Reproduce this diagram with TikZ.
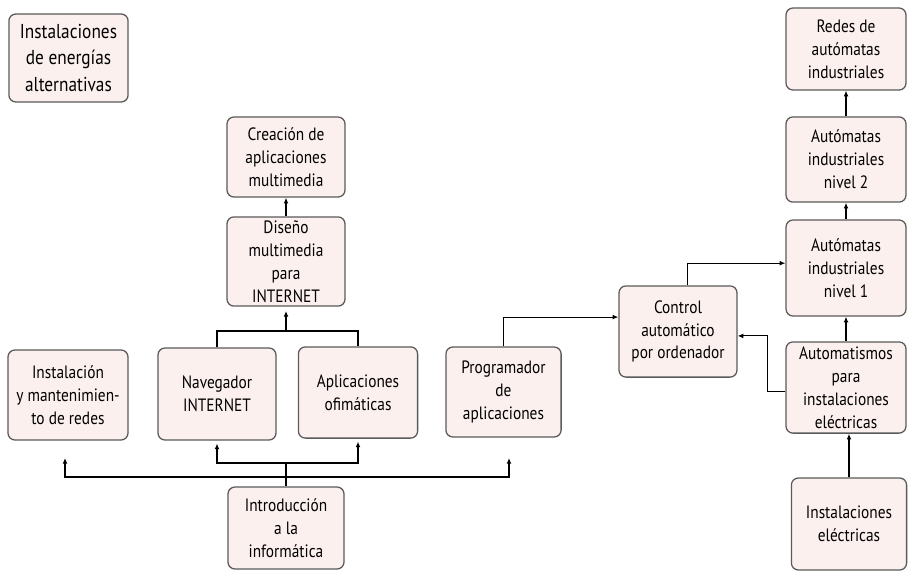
\documentclass[tikz,border=0pt]{standalone}
\usepackage{fontspec}
\setmainfont[FakeStretch=0.86]{PT Sans}
\usepackage{tikz}
\usetikzlibrary{arrows.meta}
\definecolor{boxpink}{HTML}{FCF0EE}
\definecolor{boxline}{HTML}{5A5A5A}

\begin{document}
\begin{tikzpicture}[x=0.025cm, y=-0.025cm,
  box/.style={draw=boxline, fill=boxpink, rounded corners=5pt, line width=0.9pt,
    align=center, inner sep=1pt, font=\fontsize{12.7}{16.3}\selectfont},
  arr/.style={line width=0.8pt, -{Latex[length=4pt,width=3.4pt]}},
  link/.style={line width=0.8pt}]
\useasboundingbox (0,0) rectangle (908,573);

\node[box, minimum width=2.98cm, minimum height=2.2cm, font=\fontsize{14.3}{18.5}\selectfont] (energia) at (68.5,58) {Instalaciones\\de energías\\alternativas};

\node[box, minimum width=2.95cm, minimum height=2cm] (creacion) at (286,157) {Creación de\\aplicaciones\\multimedia};
\node[box, minimum width=2.95cm, minimum height=2.23cm] (diseno) at (286,261.5) {Diseño\\multimedia\\para\\INTERNET};

\node[box, minimum width=3cm, minimum height=2.25cm] (redes) at (68,395) {Instalación\\y mantenimien-\\to de redes};
\node[box, minimum width=2.95cm, minimum height=2.3cm] (navegador) at (217,394) {Navegador\\INTERNET};
\node[box, minimum width=2.98cm, minimum height=2.28cm] (ofimatica) at (358,392.5) {Aplicaciones\\ofimáticas};
\node[box, minimum width=2.88cm, minimum height=2.25cm] (programador) at (503.5,392) {Programador\\de\\aplicaciones};
\node[box, minimum width=2.9cm, minimum height=2.05cm] (intro) at (286,528) {Introducción\\a la\\informática};

\node[box, minimum width=2.95cm, minimum height=2.28cm] (control) at (678,331.5) {Control\\automático\\por ordenador};

\node[box, minimum width=3cm, minimum height=2.05cm] (redesaut) at (846,49) {Redes de\\autómatas\\industriales};
\node[box, minimum width=3cm, minimum height=2.13cm] (nivel2) at (846,159.5) {Autómatas\\industriales\\nivel 2};
\node[box, minimum width=3cm, minimum height=2.4cm] (nivel1) at (846,268) {Autómatas\\industriales\\nivel 1};
\node[box, minimum width=3cm, minimum height=2.28cm] (automatismos) at (846,387.5) {Automatismos\\para\\instalaciones\\eléctricas};
\node[box, minimum width=2.88cm, minimum height=2.3cm] (electricas) at (849,524) {Instalaciones\\eléctricas};

\coordinate (jtop) at (286,331);
\coordinate (jin) at (286,463);
\coordinate (jout) at (286,477);
\coordinate (tipredes) at (65,458);
\coordinate (tipprog) at (509,458);

\draw[arr] (diseno.north) -- (creacion.south);
\draw[link] (navegador.north) |- (jtop) -| (ofimatica.north);
\draw[arr, shorten >=3pt] (jtop) -- (diseno.south);

\draw[link] (intro.north) -- (jin);
\draw[arr, shorten >=2pt] (jin) -| (navegador.south);
\draw[arr, shorten >=2pt] (jin) -| (ofimatica.south);
\draw[arr] (jout) -| (tipredes);
\draw[arr] (jout) -| (tipprog);

\draw[arr] (programador.north) |- ([yshift=0.36cm]control.west);
\draw[arr] ([xshift=0.23cm]control.north) |- ([yshift=0.12cm]nivel1.west);
\draw[arr] ([yshift=-0.11cm]automatismos.west) -- ++(-0.45cm,0) |- ([yshift=-0.11cm]control.east);

\draw[arr] (electricas.north) -- (electricas.north |- automatismos.south);
\draw[arr] (automatismos.north) -- (nivel1.south);
\draw[arr] (nivel1.north) -- (nivel2.south);
\draw[arr] (nivel2.north) -- (redesaut.south);
\end{tikzpicture}
\end{document}
